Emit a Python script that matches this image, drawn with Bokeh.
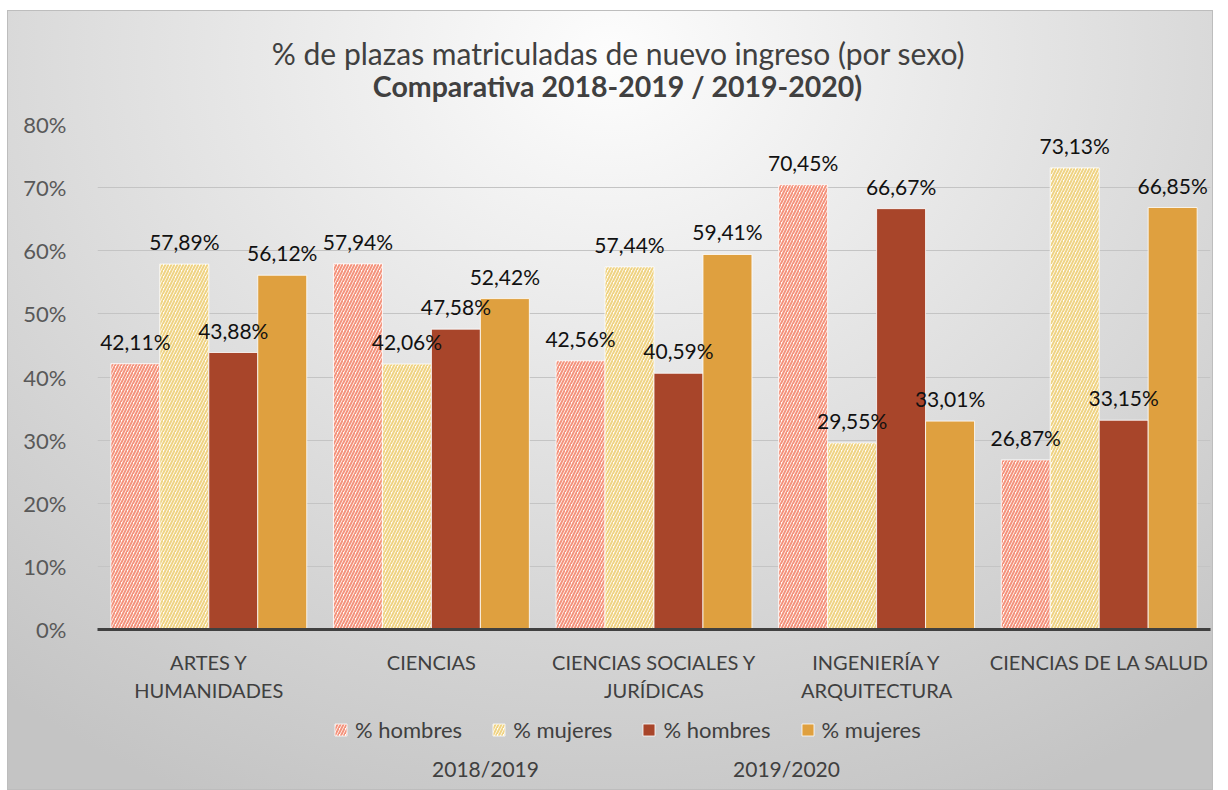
from bokeh.plotting import figure
from bokeh.layouts import column
from bokeh.models import (FactorRange, Range1d, Legend, LegendItem, Label, FixedTicker,
                          ColumnDataSource, LabelSet, CustomJSTickFormatter)
from bokeh.transform import dodge
from bokeh.core.properties import value
from bokeh.embed import file_html
from bokeh.resources import INLINE

# ---------------- data ----------------
categories = ["ARTES Y\nHUMANIDADES", "CIENCIAS", "CIENCIAS SOCIALES Y\nJURÍDICAS",
              "INGENIERÍA Y\nARQUITECTURA", "CIENCIAS DE LA SALUD"]
hombres_2018 = [42.11, 57.94, 42.56, 70.45, 26.87]
mujeres_2018 = [57.89, 42.06, 57.44, 29.55, 73.13]
hombres_2019 = [43.88, 47.58, 40.59, 66.67, 33.15]
mujeres_2019 = [56.12, 52.42, 59.41, 33.01, 66.85]
series_labels = ["% hombres", "% mujeres", "% hombres", "% mujeres"]
years = ["2018/2019", "2019/2020"]
y_ticks = [0, 10, 20, 30, 40, 50, 60, 70, 80]
title_1 = "% de plazas matriculadas de nuevo ingreso (por sexo)"
title_2 = "Comparativa 2018-2019 / 2019-2020)"

FONT = "Lato"
W = 1206
series = [hombres_2018, mujeres_2018, hombres_2019, mujeres_2019]
offsets = [-0.33, -0.11, 0.11, 0.33]
styles = [
    dict(fill_color="white", hatch_pattern="/", hatch_color="#f4937c", hatch_scale=6, hatch_weight=2.0),
    dict(fill_color="white", hatch_pattern="/", hatch_color="#efd383", hatch_scale=6, hatch_weight=2.0),
    dict(fill_color="#a8452a"),
    dict(fill_color="#dfa03f"),
]
bar_line = dict(line_color="white", line_alpha=0.8, line_width=1)

# the strips above and below share the chart's frame columns (page x 97..1210)
FRAME_X = (97, 1210)


def blank(height, yr):
    f = figure(width=W, height=height, x_range=Range1d(*FRAME_X), y_range=yr,
               output_backend="svg", toolbar_location=None, x_axis_location=None,
               y_axis_location=None, min_border=0)
    f.grid.visible = False
    f.border_fill_color = None
    f.background_fill_color = None
    f.outline_line_color = None
    return f


# ---------------- title strip ----------------
p0 = blank(98, Range1d(0, 98))
p0.add_layout(Label(x=618, y=56, text=title_1, text_align="center", text_baseline="middle",
                    text_font=FONT, text_font_size="30px", text_color="#404040"))
p0.add_layout(Label(x=617, y=23, text=title_2, text_align="center", text_baseline="middle",
                    text_font=FONT, text_font_size="28.5px", text_font_style="bold", text_color="#404040"))

# ---------------- main chart ----------------
p = figure(x_range=FactorRange(*categories, range_padding=0), y_range=(0, 80),
           frame_width=1113, frame_height=505, output_backend="svg", toolbar_location=None,
           min_border_left=90, min_border_right=3, min_border_top=16, min_border_bottom=79)
p.border_fill_color = None
p.background_fill_color = None
p.outline_line_color = None

for vals, off, st in zip(series, offsets, styles):
    src = ColumnDataSource(dict(cat=categories, val=vals,
                                lab=[f"{v:.2f}".replace(".", ",") + "%" for v in vals]))
    p.vbar(x=dodge("cat", off, range=p.x_range), top="val", width=0.22, source=src,
           **bar_line, **st)
    p.add_layout(LabelSet(x=dodge("cat", off, range=p.x_range), y="val", text="lab", source=src,
                          y_offset=10, text_align="center", text_baseline="bottom",
                          text_font=value(FONT), text_font_size="21px", text_color="#111111"))

p.yaxis.ticker = FixedTicker(ticks=y_ticks)
p.yaxis.formatter = CustomJSTickFormatter(code="return tick + '%';")
p.yaxis.axis_line_color = None
p.yaxis.major_tick_line_color = None
p.yaxis.minor_tick_line_color = None
p.yaxis.major_label_standoff = 25
p.yaxis.major_label_text_font = FONT
p.yaxis.major_label_text_font_size = "22px"
p.yaxis.major_label_text_color = "#595959"

p.xaxis.axis_line_color = "#404040"
p.xaxis.axis_line_width = 3
p.xaxis.major_tick_line_color = None
p.xaxis.minor_tick_line_color = None
p.xaxis.major_label_standoff = 14
p.xaxis.major_label_text_font = FONT
p.xaxis.major_label_text_font_size = "20px"
p.xaxis.major_label_text_color = "#404040"
p.xaxis.major_label_text_line_height = 1.2

p.xgrid.grid_line_color = None
p.ygrid.grid_line_color = "#c4c4c4"
p.ygrid.grid_line_width = 1

# ---------------- legend strip ----------------
p2 = blank(82, Range1d(0, 82))
# zero-height legend proxies placed left of the visible range
proxies = [p2.vbar(x=[0], top=[0], width=1, **bar_line, **st) for st in styles]
legend = Legend(items=[LegendItem(label=lab, renderers=[r]) for lab, r in zip(series_labels, proxies)],
                orientation="horizontal", location=(236, 47), border_line_color=None,
                background_fill_alpha=0, label_text_font=FONT, label_text_font_size="22px",
                label_text_color="#404040", glyph_width=15, glyph_height=15, label_height=22,
                spacing=29, label_standoff=7, padding=6, margin=0)
p2.add_layout(legend)
for xpos, yr in zip([485, 786], years):
    p2.add_layout(Label(x=xpos, y=22, text=yr, text_align="center", text_baseline="middle",
                        text_font=FONT, text_font_size="21px", text_color="#404040"))

layout = column(p0, p, p2, spacing=0, margin=(10, 0, 0, 7),
                stylesheets=[":host { background: radial-gradient(ellipse 80% 105% at 50% 6%, #fdfdfd 0%, #e6e6e6 40%, #d2d2d2 75%, #c4c4c4 100%); box-shadow: inset 0 0 0 1px #bdbdbd; }"])

open("out.html", "w").write(file_html(layout, INLINE))
